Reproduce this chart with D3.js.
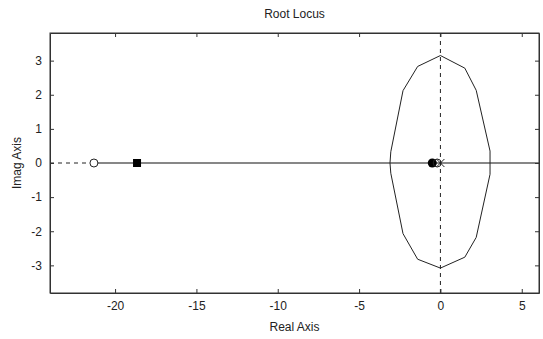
<!DOCTYPE html>
<html>
<head>
<meta charset="utf-8">
<script src="https://cdn.jsdelivr.net/npm/d3@7"></script>
<style>
  body { margin: 0; background: #fff; }
  text { font-family: "Liberation Sans", Arial, sans-serif; font-size: 12px; fill: #222; }
</style>
</head>
<body>
<svg id="chart"></svg>
<script>
let width = 543,
    height = 339;

// ticks
const xTicks = [-20, -15, -10, -5, 0, 5];
const yTicks = [-3, -2, -1, 0, 1, 2, 3];

// root locus branch (closed loop round the origin), [real, imag]
const locus = [
  [-3.1, 0], [-3.05, 0.33], [-2.3, 2.12], [-1.4, 2.83], [0, 3.15],
  [1.5, 2.78], [2.2, 2.13], [3.05, 0.35], [3.05, 0],
  [3.05, -0.33], [2.2, -2.18], [1.5, -2.76], [0, -3.08],
  [-1.4, -2.82], [-2.3, -2.07], [-3.05, -0.3], [-3.1, 0]
];

// real-axis segment of the locus
const realSegment = [-21.3, 6.06];

// poles and zeros
const zeros = [-21.3, -0.2];
const squarePoles = [-18.65];
const filledPoles = [-0.5];
const crossPoles = [0];

const margin = {left: 50, right: 4, top: 33, bottom: 46};

const x = d3.scaleLinear().domain([-24, 6.06]).range([margin.left, width - margin.right]);
const y = d3.scaleLinear().domain([-3.81, 3.81]).range([height - margin.bottom, margin.top]);

const svg = d3.select("#chart").attr("width", width).attr("height", height);

// dashed axes lines through origin
svg.append("line")
  .attr("x1", x(-24)).attr("x2", x(realSegment[0])).attr("y1", y(0)).attr("y2", y(0))
  .style("stroke", "#222").style("stroke-dasharray", "4,4");
svg.append("line")
  .attr("x1", x(0)).attr("x2", x(0)).attr("y1", y(-3.81)).attr("y2", y(3.81))
  .style("stroke", "#222").style("stroke-dasharray", "4,4");

// locus
svg.append("line")
  .attr("x1", x(realSegment[0])).attr("x2", x(realSegment[1]))
  .attr("y1", y(0)).attr("y2", y(0))
  .style("stroke", "#111").style("stroke-width", 1.2);
svg.append("path")
  .datum(locus)
  .attr("d", d3.line().x(d => x(d[0])).y(d => y(d[1])))
  .style("fill", "none").style("stroke", "#222").style("stroke-width", 1);

// markers
svg.selectAll(".fpole").data(filledPoles).enter().append("circle")
  .attr("cx", d => x(d)).attr("cy", y(0)).attr("r", 4.5)
  .style("fill", "#000");
svg.selectAll(".zero").data(zeros).enter().append("circle")
  .attr("cx", d => x(d)).attr("cy", y(0)).attr("r", 4)
  .style("fill", "#fff").style("fill-opacity", d => d < -10 ? 1 : 0)
  .style("stroke", "#222");
svg.selectAll(".sq").data(squarePoles).enter().append("rect")
  .attr("x", d => x(d) - 4).attr("y", y(0) - 4).attr("width", 8).attr("height", 8)
  .style("fill", "#000");
crossPoles.forEach((d) => {
  const cx = x(d), cy = y(0), s = 4;
  svg.append("path")
    .attr("d", `M${cx - s},${cy - s}L${cx + s},${cy + s}M${cx - s},${cy + s}L${cx + s},${cy - s}`)
    .style("stroke", "#222");
});

// box and axes (ticks inside)
const fmt = d => String(d);
const xb = d3.axisBottom(x).tickValues(xTicks).tickSizeInner(-4).tickSizeOuter(0).tickPadding(8).tickFormat(fmt);
const yl = d3.axisLeft(y).tickValues(yTicks).tickSizeInner(-4).tickSizeOuter(0).tickPadding(8).tickFormat(fmt);
const xt = d3.axisTop(x).tickValues(xTicks).tickSizeInner(-4).tickSizeOuter(0).tickFormat("");
const yr = d3.axisRight(y).tickValues(yTicks).tickSizeInner(-4).tickSizeOuter(0).tickFormat("");

svg.append("g").attr("transform", `translate(0,${height - margin.bottom})`).call(xb);
svg.append("g").attr("transform", `translate(${margin.left},0)`).call(yl);
svg.append("g").attr("transform", `translate(0,${margin.top})`).call(xt);
svg.append("g").attr("transform", `translate(${width - margin.right},0)`).call(yr);

svg.selectAll(".domain").style("stroke", "#333");
svg.selectAll(".tick line").style("stroke", "#333");
svg.selectAll(".tick text").style("font-family", "Liberation Sans, Arial, sans-serif")
  .style("font-size", "12px").style("fill", "#222");

svg.append("rect")
  .attr("x", margin.left).attr("y", margin.top)
  .attr("width", width - margin.left - margin.right)
  .attr("height", height - margin.top - margin.bottom)
  .style("fill", "none").style("stroke", "#333");

// titles
svg.append("text").attr("x", (margin.left + width - margin.right) / 2).attr("y", 18)
  .attr("text-anchor", "middle").style("fill", "#222").text("Root Locus");
svg.append("text").attr("x", (margin.left + width - margin.right) / 2).attr("y", 331)
  .attr("text-anchor", "middle").style("fill", "#222").text("Real Axis");
svg.append("text")
  .attr("transform", `translate(21,${(margin.top + height - margin.bottom) / 2}) rotate(-90)`)
  .attr("text-anchor", "middle").style("fill", "#222").text("Imag Axis");
</script>
</body>
</html>
